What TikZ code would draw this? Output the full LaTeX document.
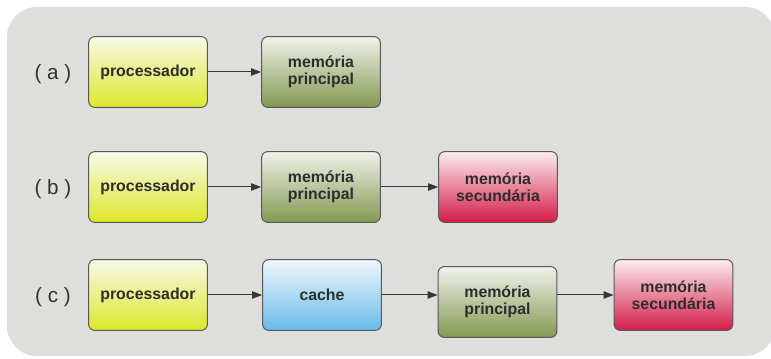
\documentclass[tikz,border=0pt]{standalone}
\usepackage{fontspec}
\setmainfont{Liberation Sans}
\usetikzlibrary{arrows.meta}

\definecolor{bggray}{RGB}{222,222,220}
\definecolor{boxline}{RGB}{88,88,86}
\definecolor{boxtext}{RGB}{45,45,45}
\definecolor{labeltext}{RGB}{50,50,50}
\definecolor{arrowgray}{RGB}{55,55,55}

\tikzset{
  box/.style={draw=boxline, line width=0.75pt, rounded corners=4.5pt,
    minimum width=89pt, minimum height=53pt, align=center, text=boxtext,
    font=\fontsize{11.9}{12.4}\selectfont\bfseries},
  cpubox/.style={box, top color={rgb,255:red,248;green,249;blue,232},
    middle color={rgb,255:red,238;green,242;blue,146},
    bottom color={rgb,255:red,221;green,231;blue,42}},
  mainbox/.style={box, top color={rgb,255:red,240;green,242;blue,234},
    middle color={rgb,255:red,192;green,204;blue,160},
    bottom color={rgb,255:red,132;green,152;blue,82}},
  cachebox/.style={box, top color={rgb,255:red,240;green,247;blue,252},
    middle color={rgb,255:red,184;green,222;blue,244},
    bottom color={rgb,255:red,104;green,186;blue,234}},
  diskbox/.style={box, top color={rgb,255:red,252;green,236;blue,240},
    middle color={rgb,255:red,236;green,140;blue,166},
    bottom color={rgb,255:red,212;green,28;blue,72}},
  link/.style={draw=arrowgray, line width=0.75pt, -{Triangle[length=7.5pt,width=5.5pt]}},
  rowlabel/.style={text=labeltext, font=\fontsize{15.5}{17}\selectfont}
}

\begin{document}
\begin{tikzpicture}[x=0.75pt,y=-0.75pt]

        %Background
        \clip (0,0) rectangle (771,359);
        \fill [white] (0,0) rectangle (771,359);
        \fill [bggray, rounded corners=22.5pt] (7,7) rectangle (775,356);

        %Row a
        \node [rowlabel] (lbla) at (53,74) {( a )};
        \node [cpubox]  (cpua)  at (148,72)  {processador};
        \node [mainbox] (mema)  at (321,72)  {memória\\principal};
        \draw [link] (cpua) -- (mema);

        %Row b
        \node [rowlabel] (lblb) at (53,189) {( b )};
        \node [cpubox]  (cpub)  at (148,187) {processador};
        \node [mainbox] (memb)  at (321,187) {memória\\principal};
        \node [diskbox] (diskb) at (498,187) {memória\\secundária};
        \draw [link] (cpub) -- (memb);
        \draw [link] (memb) -- (diskb);

        %Row c
        \node [rowlabel] (lblc) at (53,297) {( c )};
        \node [cpubox]   (cpuc)   at (148,295)   {processador};
        \node [cachebox] (cachec) at (322,295)   {cache};
        \node [mainbox]  (memc)   at (497.5,302) {memória\\principal};
        \node [diskbox]  (diskc)  at (673.5,295) {memória\\secundária};
        \draw [link] (cpuc) -- (cachec);
        \draw [link] (cachec.east) -- (cachec.east -| memc.west);
        \draw [link] (cachec.east -| memc.east) -- (diskc.west);

\end{tikzpicture}
\end{document}
